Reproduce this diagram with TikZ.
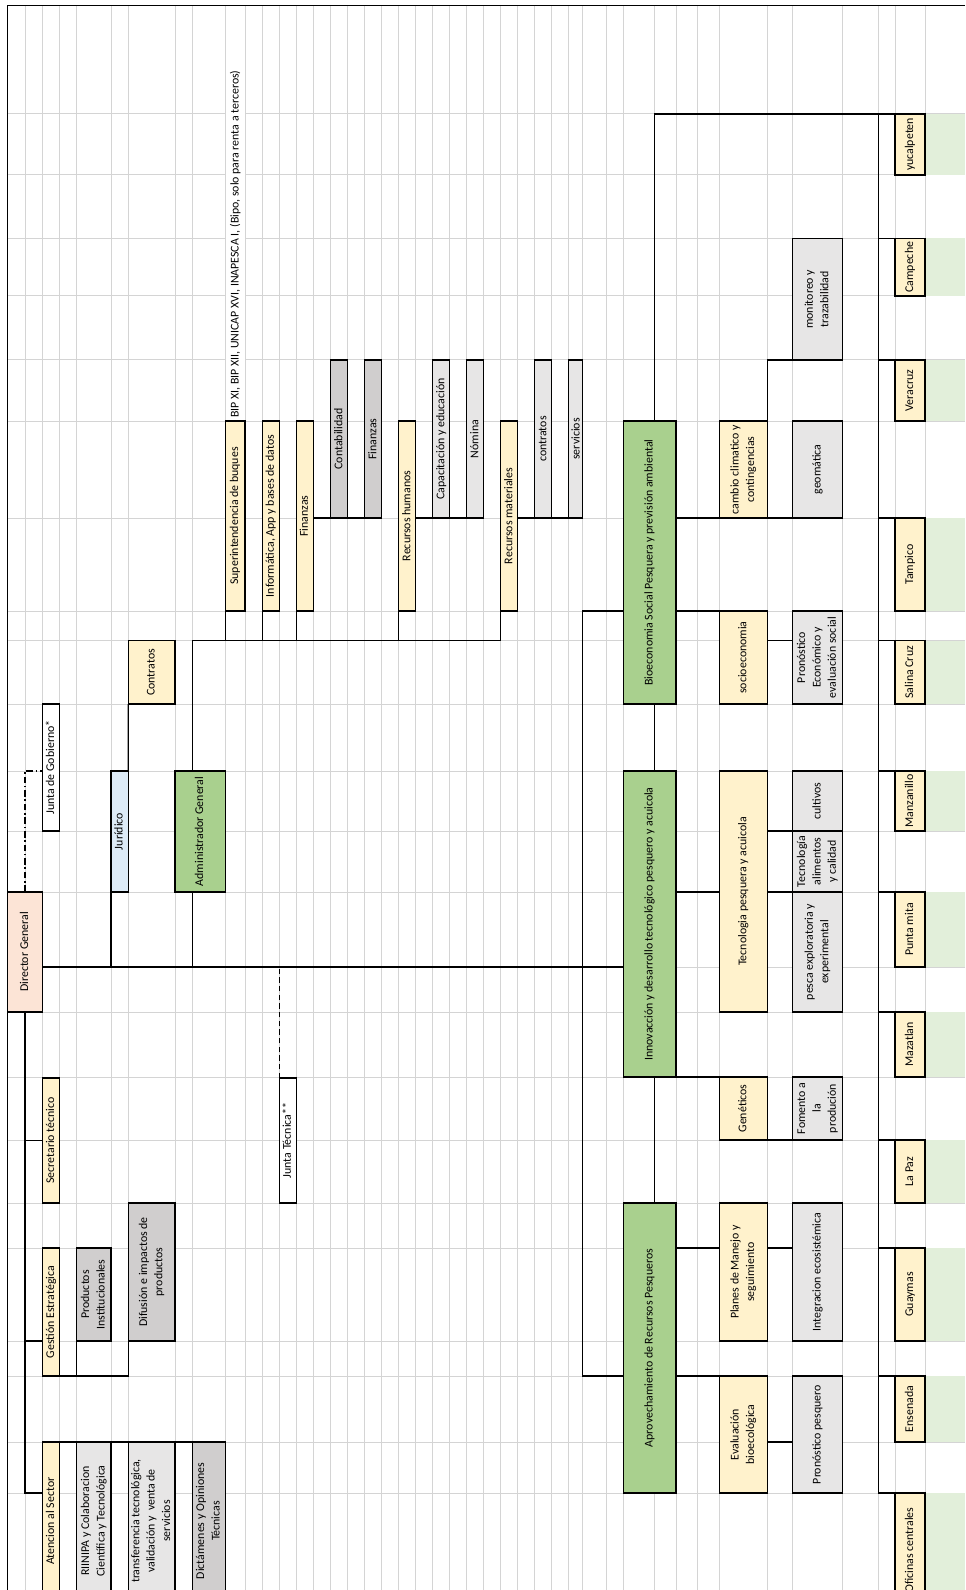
\documentclass[tikz,border=0pt]{standalone}
\usepackage{fontspec}
\setmainfont{Carlito}
\usepackage{graphicx}
\definecolor{rosa}{HTML}{FCE4D6}
\definecolor{azul}{HTML}{DDEBF7}
\definecolor{amarillo}{HTML}{FFF2CC}
\definecolor{verde}{HTML}{A9D08E}
\definecolor{verdeclaro}{HTML}{E2EFDA}
\definecolor{grisosc}{HTML}{D0CECE}
\definecolor{grisclaro}{HTML}{E7E6E6}
\definecolor{gris}{HTML}{D4D4D4}
\renewcommand{\arraystretch}{0.96}
\newcommand{\vtexto}[1]{\rotatebox{90}{\begin{tabular}{@{}c@{}}#1\end{tabular}}}

\begin{document}
\begin{tikzpicture}[x=0.75pt, y=-0.75pt,
    rejilla/.style={draw=gris, line width=0.75pt},
    caja/.style={draw, line width=1.1pt, inner sep=0pt, outer sep=0pt, anchor=north west,
      font=\fontsize{8.9}{12}\selectfont},
    tam/.style 2 args={minimum width=#1*0.75pt, minimum height=#2*0.75pt},
    enlace/.style={line width=1pt}]

      \clip (0,0) rectangle (965,1590);
      \fill[white] (0,0) rectangle (965,1590);

      \foreach \x in {25.7,42.7,59.3,76.7,111,128.3,175,192.3,225.3,245,262.3,279.3,296.3,313.3,
        330.7,347.7,364.7,381.7,398.7,415.7,432.7,449.7,466.7,483.7,500.7,517.7,534.7,551.7,568.7,
        582.3,606.7,623.3,654.3,676,697.7,719.3,767.3,792.3,842.7,878.3,895,925}
        \draw[rejilla] (\x,6) -- (\x,1590);
      \foreach \y in {114,175,238.5,296,360,421,518,611,640.5,704,771,831,892,967,1012,1077,
        1140,1203,1248,1341,1376,1442,1493}
        \draw[rejilla] (7.3,\y) -- (965,\y);
      \fill[white] (226,7) rectangle (244.5,420);
      \foreach \a/\b in {114/175,238.5/296,360/421,518/611,640.5/704,771/831,892/967,1012/1077,
        1140/1203,1248/1341,1376/1442,1493/1590}
        \fill[verdeclaro] (925.4,\a) rectangle (965,\b);
      \draw[line width=0.75pt] (7.3,1590) -- (7.3,6) -- (965,6);

      \node[caja, fill=rosa, tam={35.4}{120}] (dir) at (7.3,892) {\vtexto{Director General}};
      \node[caja, fill=white, tam={16.6}{127}] (jgob) at (42.7,704) {\vtexto{Junta de Gobierno*}};
      \node[caja, fill=azul, tam={17.3}{121}] (jur) at (111,771) {\vtexto{Jurídico}};
      \node[caja, fill=amarillo, tam={46.7}{63.5}] (contr) at (128.3,640.5) {\vtexto{Contratos}};
      \node[caja, fill=verde, tam={50.3}{121}] (admin) at (175,771) {\vtexto{Administrador General}};
      \node[caja, fill=amarillo, tam={19.7}{190}] (sup) at (225.3,421) {\vtexto{Superintendencia de buques}};
      \node[caja, fill=amarillo, tam={17}{190}] (inf) at (262.3,421) {\vtexto{Informática, App y bases de datos}};
      \node[caja, fill=amarillo, tam={17}{190}] (fin) at (296.3,421) {\vtexto{Finanzas}};
      \node[caja, fill=grisosc, tam={17}{158}] (conta) at (330.7,360) {\vtexto{Contabilidad}};
      \node[caja, fill=grisosc, tam={17}{158}] (fin2) at (364.7,360) {\vtexto{Finanzas}};
      \node[caja, fill=amarillo, tam={17}{190}] (rh) at (398.7,421) {\vtexto{Recursos humanos}};
      \node[caja, fill=grisclaro, tam={17}{158}] (capa) at (432.7,360) {\vtexto{Capacitación y educación}};
      \node[caja, fill=grisclaro, tam={17}{158}] (nom) at (466.7,360) {\vtexto{Nómina}};
      \node[caja, fill=amarillo, tam={17}{190}] (rm) at (500.7,421) {\vtexto{Recursos materiales}};
      \node[caja, fill=grisclaro, tam={17}{158}] (contr2) at (534.7,360) {\vtexto{contratos}};
      \node[caja, fill=grisclaro, tam={13.6}{158}] (serv) at (568.7,360) {\rotatebox{90}{servicios}};
      \node[inner sep=0pt, anchor=south, font=\fontsize{8.9}{12}\selectfont] (bip) at (235.2,418)
        {\rotatebox{90}{BIP XI, BIP XII, UNICAP XVI, INAPESCA I, (Bipo, solo para renta a terceros)}};

      \node[caja, fill=white, tam={17}{125}] (jtec) at (279.3,1078) {\vtexto{Junta Técnica**}};
      \node[caja, fill=amarillo, tam={16.6}{125}] (sec) at (42.7,1078) {\vtexto{Secretario técnico}};
      \node[caja, fill=amarillo, tam={16.6}{128}] (gest) at (42.7,1248) {\vtexto{Gestión Estratégica}};
      \node[caja, fill=grisosc, tam={34.3}{93}] (prod) at (76.7,1248) {\vtexto{Productos\\Institucionales}};
      \node[caja, fill=grisosc, tam={46.7}{138}] (dif) at (128.3,1203) {\vtexto{Difusión e impactos de\\productos}};
      \node[caja, fill=amarillo, tam={16.6}{158}] (aten) at (42.7,1442) {\vtexto{Atencion al Sector}};
      \node[caja, fill=grisclaro, tam={34.3}{158}] (riin) at (76.7,1442) {\vtexto{RIINIPA y Colaboracion\\Científica y Tecnológica}};
      \node[caja, fill=grisclaro, tam={46.7}{158}] (trans) at (128.3,1442) {\vtexto{transferencia tecnológica,\\validación y\ \ venta de\\servicios}};
      \node[caja, fill=grisosc, tam={33}{158}] (dict) at (192.3,1442) {\vtexto{Dictámenes y Opiniones\\Técnicas}};

      \node[caja, fill=verde, tam={52.7}{283}] (bio) at (623.3,421) {\vtexto{Bioeconomia Social Pesquera y previsión ambiental}};
      \node[caja, fill=verde, tam={52.7}{306}] (innov) at (623.3,771) {\vtexto{Innovacción y desarrollo tecnológico pesquero y acuicola}};
      \node[caja, fill=verde, tam={52.7}{290}] (aprov) at (623.3,1203) {\vtexto{Aprovechamiento de Recursos Pesqueros}};
      \node[caja, fill=amarillo, tam={48}{97}] (cambio) at (719.3,421) {\vtexto{cambio climatico y\\contingencias}};
      \node[caja, fill=grisclaro, tam={50.4}{97}] (geo) at (792.3,421) {\vtexto{geomática}};
      \node[caja, fill=grisclaro, tam={50.4}{121.5}] (moni) at (792.3,238.5) {\vtexto{monitoreo y\\trazabilidad}};
      \node[caja, fill=amarillo, tam={48}{93}] (socio) at (719.3,611) {\vtexto{socioeconomia}};
      \node[caja, fill=grisclaro, tam={50.4}{93}] (pron) at (792.3,611) {\vtexto{Pronóstico\\Económico y\\evaluación social}};
      \node[caja, fill=amarillo, tam={48}{241}] (tec) at (719.3,771) {\vtexto{Tecnologia pesquera y acuicola}};
      \node[caja, fill=grisclaro, tam={50.4}{60}] (cult) at (792.3,771) {\vtexto{cultivos}};
      \node[caja, fill=grisclaro, tam={50.4}{61}] (alim) at (792.3,831) {\vtexto{Tecnología\\alimentos\\y calidad}};
      \node[caja, fill=grisclaro, tam={50.4}{120}] (pesca) at (792.3,892) {\vtexto{pesca exploratoria y\\experimental}};
      \node[caja, fill=amarillo, tam={48}{63}] (gen) at (719.3,1077) {\vtexto{Genéticos}};
      \node[caja, fill=grisclaro, tam={50.4}{63}] (fom) at (792.3,1077) {\vtexto{Fomento a\\la\\produción}};
      \node[caja, fill=amarillo, tam={48}{138}] (planes) at (719.3,1203) {\vtexto{Planes de Manejo y\\seguimiento}};
      \node[caja, fill=grisclaro, tam={50.4}{138}] (integ) at (792.3,1203) {\vtexto{Integracion ecosistémica}};
      \node[caja, fill=amarillo, tam={48}{117}] (eval) at (719.3,1376) {\vtexto{Evaluación\\bioecológica}};
      \node[caja, fill=grisclaro, tam={50.4}{117}] (pronp) at (792.3,1376) {\vtexto{Pronóstico pesquero}};

      \node[caja, fill=amarillo, tam={30}{61}] (yuc) at (895,114) {\vtexto{yucalpeten}};
      \node[caja, fill=amarillo, tam={30}{57.5}] (camp) at (895,238.5) {\vtexto{Campeche}};
      \node[caja, fill=amarillo, tam={30}{61}] (vera) at (895,360) {\vtexto{Veracruz}};
      \node[caja, fill=amarillo, tam={30}{93}] (tamp) at (895,518) {\vtexto{Tampico}};
      \node[caja, fill=amarillo, tam={30}{63.5}] (salina) at (895,640.5) {\vtexto{Salina Cruz}};
      \node[caja, fill=amarillo, tam={30}{60}] (manz) at (895,771) {\vtexto{Manzanillo}};
      \node[caja, fill=amarillo, tam={30}{75}] (punta) at (895,892) {\vtexto{Punta mita}};
      \node[caja, fill=amarillo, tam={30}{65}] (maz) at (895,1012) {\vtexto{Mazatlan}};
      \node[caja, fill=amarillo, tam={30}{63}] (lapaz) at (895,1140) {\vtexto{La Paz}};
      \node[caja, fill=amarillo, tam={30}{93}] (guay) at (895,1248) {\vtexto{Guaymas}};
      \node[caja, fill=amarillo, tam={30}{66}] (ens) at (895,1376) {\vtexto{Ensenada}};
      \node[caja, fill=amarillo, tam={30}{114}] (ofi) at (895,1493) {\vtexto{Oficinas centrales}};

      \draw[enlace, dash pattern=on 5pt off 2pt on 1.2pt off 2pt] (dir.north) |- (jgob.west |- 0,771);
      \draw[enlace] (dir.east |- 0,967) -- (innov.west |- 0,967);
      \draw[enlace] (jur.south west) -- (jur.south west |- 0,967);
      \draw[enlace] (jur.north east) -- (contr.south west);
      \coordinate (eAdm) at (192.3,640.5);
      \draw[enlace] (eAdm |- 0,967) -- (eAdm |- admin.south);
      \draw[enlace] (eAdm |- admin.north) -- (eAdm) -- (eAdm -| rm.south west) -- (rm.south west);
      \foreach \n in {sup,inf,fin,rh}
        \draw[enlace] (\n.south west) -- (\n.south west |- eAdm);
      \draw[enlace] (fin.east |- conta.south) -- (fin2.south east);
      \draw[enlace] (rh.east |- capa.south) -- (nom.south east);
      \draw[enlace] (rm.east |- contr2.south) -- (serv.south east);
      \draw[enlace, dash pattern=on 4pt off 2.5pt] (jtec.north west) -- (jtec.north west |- 0,967);

      \draw[enlace] (dir.south) -- (dir.south |- 0,1493) -- (aten.west |- 0,1493);
      \draw[enlace] (dir.south |- sec.west) -- (sec.west);
      \draw[enlace] (dir.south |- 0,1341) -- (gest.west |- 0,1341);
      \draw[enlace] (gest.south east) -- (gest.south east -| dif.south west) -- (dif.south west);
      \draw[enlace] (prod.south west) -- (prod.south west |- gest.south);
      \draw[enlace] (aten.north east) -- (dict.north west);

      \coordinate (tA) at (582.3,611);
      \coordinate (tB) at (582.3,1376);
      \draw[enlace] (bio.west |- tA) -- (tA) -- (tB) -- (aprov.west |- tB);
      \coordinate (eje) at (654.3,0);
      \draw[enlace] (bio.south -| eje) -- (innov.north -| eje);
      \draw[enlace] (innov.south -| eje) -- (aprov.north -| eje);
      \draw[enlace] (bio.north -| eje) |- (yuc.north west);
      \coordinate (eC) at (878.3,114);
      \draw[enlace] (eC) -- (eC |- ofi.north) -- (ofi.north west);
      \foreach \c in {camp,vera,tamp,salina,manz,punta,maz,lapaz,guay,ens}
        \draw[enlace] (eC |- \c.north) -- (\c.north west);

      \draw[enlace] (bio.east |- cambio.south) -- (geo.south west);
      \draw[enlace] (cambio.north east) |- (moni.south west);
      \draw[enlace] (bio.east |- socio.north) -- (socio.north west);
      \draw[enlace] (socio.east |- 0,640.5) -- (pron.west |- 0,640.5);
      \draw[enlace] (innov.east |- pesca.north) -- (tec.west |- pesca.north);
      \draw[enlace] (tec.east |- alim.north) -- (alim.north west);
      \draw[enlace] (tec.east |- pesca.north) -- (pesca.north west);
      \draw[enlace] (innov.south east) -- (gen.north west);
      \draw[enlace] (gen.south east) -- (fom.south west);
      \draw[enlace] (aprov.east |- 0,1248) -- (planes.west |- 0,1248);
      \draw[enlace] (planes.east |- 0,1248) -- (integ.west |- 0,1248);
      \draw[enlace] (aprov.east |- eval.north) -- (eval.north west);
      \draw[enlace] (eval.east |- 0,1442) -- (pronp.west |- 0,1442);
    \end{tikzpicture}
\end{document}
